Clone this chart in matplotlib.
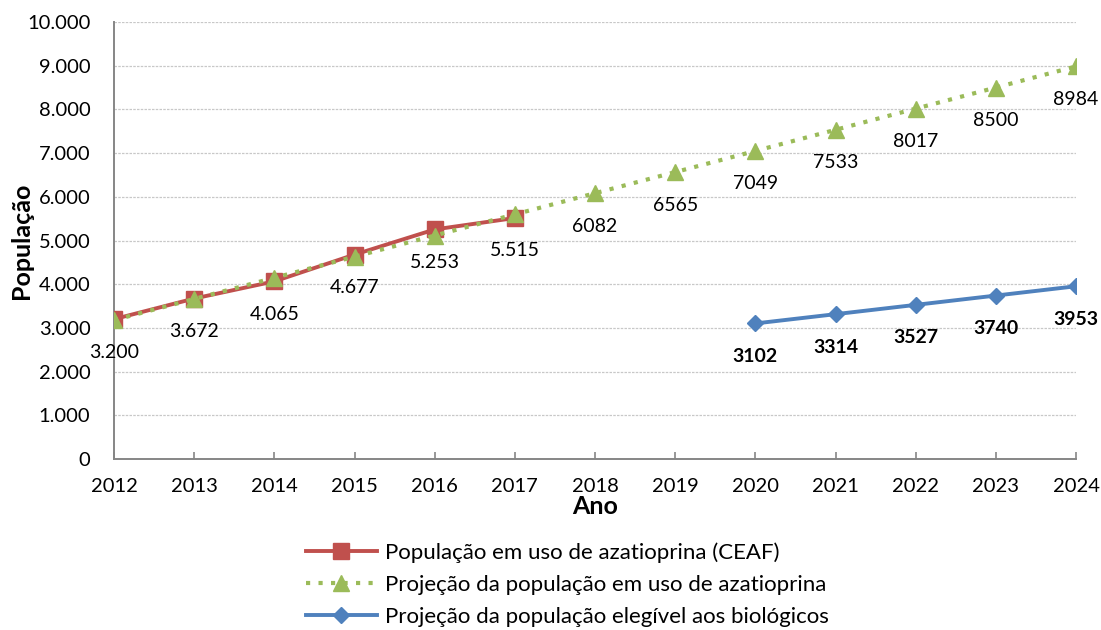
import matplotlib
matplotlib.use("Agg")
import matplotlib.pyplot as plt
from matplotlib.ticker import FuncFormatter, MultipleLocator

plt.rcParams['font.family'] = ['Lato', 'DejaVu Sans']

years = list(range(2012, 2025))
ceaf_years = [2012, 2013, 2014, 2015, 2016, 2017]
ceaf_vals = [3200, 3672, 4065, 4677, 5253, 5515]
proj_vals = [3178, 3662, 4146, 4630, 5114, 5598, 6082, 6565, 7049, 7533, 8017, 8500, 8984]
bio_years = [2020, 2021, 2022, 2023, 2024]
bio_vals = [3102, 3314, 3527, 3740, 3953]

fig = plt.figure(figsize=(11.01, 6.30), dpi=100)
ax = fig.add_axes([114/1101, 1-459/630, (1076-114)/1101, (459-22)/630])

red = '#C0504D'
green = '#9BBB59'
blue = '#4F81BD'

ax.plot(ceaf_years, ceaf_vals, color=red, lw=2.8, marker='s', ms=11, zorder=3,
        label='População em uso de azatioprina (CEAF)')
ax.plot(years, proj_vals, color=green, lw=3, ls=(0, (1, 2.0)), marker='^', ms=12, zorder=4,
        label='Projeção da população em uso de azatioprina')
ax.plot(bio_years, bio_vals, color=blue, lw=2.8, marker='D', ms=8, zorder=3,
        label='Projeção da população elegível aos biológicos')

def fmt(v):
    return f"{v:,}".replace(',', '.')

for x, v in zip(ceaf_years, ceaf_vals):
    ax.annotate(fmt(v), (x, v), xytext=(0, -33), textcoords='offset pixels',
                ha='center', va='center', fontsize=14)
for x, v in zip(years, proj_vals):
    if x >= 2018:
        ax.annotate(str(v), (x, v), xytext=(0, -33), textcoords='offset pixels',
                    ha='center', va='center', fontsize=14)
for x, v in zip(bio_years, bio_vals):
    ax.annotate(str(v), (x, v), xytext=(0, -33), textcoords='offset pixels',
                ha='center', va='center', fontsize=14, fontweight='bold')

ax.set_xlim(2012, 2024)
ax.set_ylim(0, 10000)
ax.set_xticks(years)
ax.yaxis.set_major_locator(MultipleLocator(1000))
ax.yaxis.set_major_formatter(FuncFormatter(lambda v, p: fmt(int(v))))
ax.tick_params(axis='both', labelsize=14.5, color='#868686')
ax.tick_params(axis='y', length=0, pad=17)
ax.tick_params(axis='x', direction='in', length=5, width=1.2, pad=14)
ax.grid(axis='y', color='#C8C8C8', lw=0.9, ls=(0, (2, 1)))
ax.set_axisbelow(True)
for s in ['top', 'right']:
    ax.spines[s].set_visible(False)
for s in ['left', 'bottom']:
    ax.spines[s].set_color('#868686')
    ax.spines[s].set_linewidth(1.4)

ax.set_xlabel('Ano', fontsize=18, fontweight='bold', labelpad=0)
ax.set_ylabel('População', fontsize=18, fontweight='bold')
ax.yaxis.set_label_coords(-(114 - 33) / 962, 0.5)

leg = fig.legend(loc='upper center', bbox_to_anchor=(0.515, 1 - 542/630), ncol=1,
                 frameon=False, fontsize=16, handlelength=3.2, labelspacing=0.55,
                 handletextpad=0.35, borderaxespad=0, borderpad=0)

fig.savefig('out.png', dpi=100)
